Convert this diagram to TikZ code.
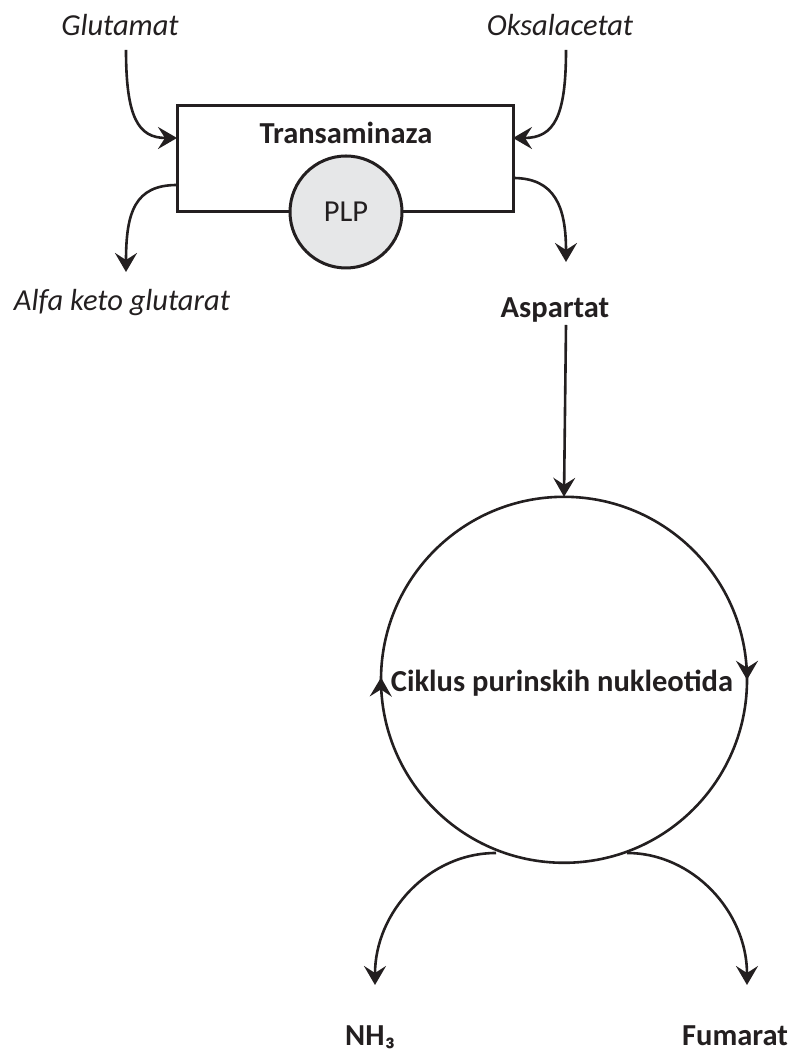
\documentclass[tikz,border=0pt]{standalone}
\usepackage{fontspec}
\setmainfont{Carlito}[Ligatures=Common]
\usetikzlibrary{arrows.meta,decorations.markings}
\definecolor{ink}{HTML}{231F20}
\definecolor{plpfill}{HTML}{E6E7E8}
\begin{document}
\begin{tikzpicture}[x=1pt,y=1pt,
  ink/.style={draw=ink, line width=2.6pt},
  tip/.style={-{Stealth[length=19pt,width=22pt,inset=7pt]}},
  lbl/.style={text=ink, inner sep=0pt, font=\fontsize{30.5}{34}\selectfont},
  lblit/.style={lbl, font=\fontsize{30.5}{34}\selectfont\itshape},
  lblbf/.style={lbl, font=\fontsize{30.5}{34}\selectfont\bfseries}]
\useasboundingbox (0,0) rectangle (793,1052);

% enzyme box with its cofactor
\node[ink, line width=3pt, minimum width=336pt, minimum height=106pt, inner sep=0pt] (box) at (345,893) {};
\node[lblbf] (enz) at (346,919) {Transaminaza};
\node[ink, line width=3pt, circle, fill=plpfill, minimum size=112pt, inner sep=0pt] (plp) at (346,840) {};
\node[lbl] at (plp.center) {PLP};

% substrates and products of the transamination
\node[lblit] (glu) at (120,1027) {Glutamat};
\node[lblit] (oks) at (560,1027) {Oksalacetat};
\node[lblit] (akg) at (122,749) {Alfa keto glutarat};
\node[lblbf] (asp) at (555,742) {Aspartat};

\coordinate (gluS) at (126,1002);
\coordinate (oksS) at (566,1002);
\coordinate (boxWin) at (177,914);
\coordinate (boxEin) at (513,914);
\coordinate (boxWout) at (177,867);
\coordinate (boxEout) at (513,874);
\coordinate (akgE) at (126,780);
\coordinate (aspE) at (566,790);

\draw[ink, tip] (gluS) .. controls (126,935) and (138,914) .. (boxWin);
\draw[ink, tip] (oksS) .. controls (566,935) and (554,914) .. (boxEin);
\draw[ink, tip] (boxWout) .. controls (135,867) and (126,840) .. (akgE);
\draw[ink, tip] (boxEout) .. controls (555,874) and (566,845) .. (aspE);

% purine nucleotide cycle
\node[circle, minimum size=366pt, inner sep=0pt] (cyc) at (564,372) {};
\draw[ink, decoration={markings,
    mark=at position 0.25 with {\arrow{Stealth[length=19pt,width=22pt,inset=7pt]}},
    mark=at position 0.752 with {\arrow{Stealth[length=19pt,width=22pt,inset=7pt]}}},
  postaction={decorate}]
  (cyc.north) arc[start angle=90, end angle=-270, radius=183pt];
\node[lblbf] (cyclbl) at (562,369) {Ciklus purinskih nukleotida};

\coordinate (aspS) at (566,727);
\draw[ink, tip] (aspS) -- (cyc.north);

% products released from the cycle
\node[lblbf, anchor=base] (nh3) at (370,6) {NH₃};
\node[lblbf, anchor=base] (fum) at (735,6) {Fumarat};
\coordinate (nhS) at (496,199);
\coordinate (nhE) at (375,67);
\coordinate (fuS) at (627,199);
\coordinate (fuE) at (747,67);
\draw[ink, tip] (nhS) .. controls (429,199) and (375,140) .. (nhE);
\draw[ink, tip] (fuS) .. controls (693,199) and (747,140) .. (fuE);
\end{tikzpicture}
\end{document}
